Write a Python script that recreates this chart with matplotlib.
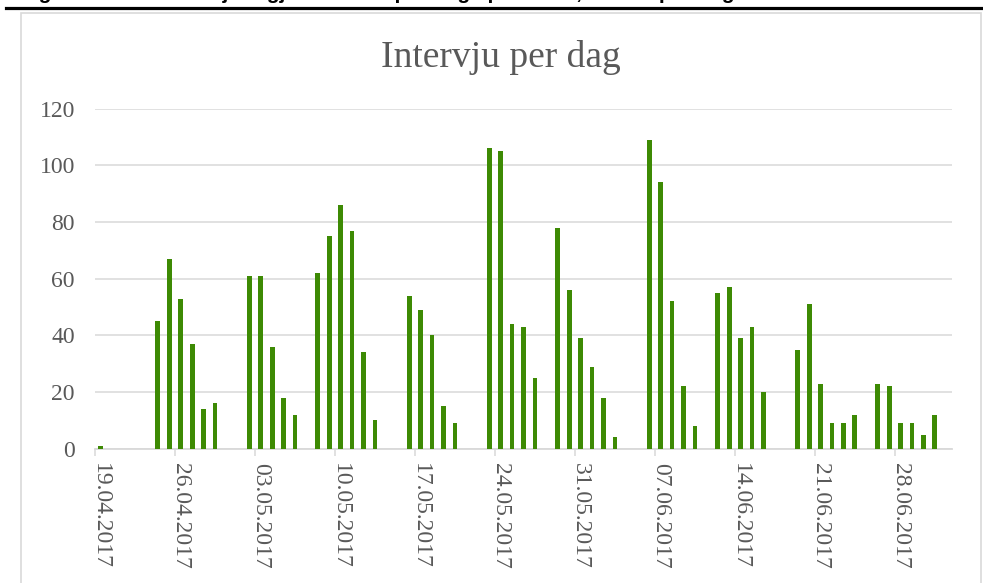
import numpy as np
import pandas as pd
import matplotlib
matplotlib.use("Agg")
import matplotlib.pyplot as plt
from matplotlib.lines import Line2D
from matplotlib.patches import Rectangle

start_date = "2017-04-19"
n_days = 75
interviews = [
    1, 0, 0, 0, 0, 45, 67, 53, 37, 14, 16,
    0, 0, 61, 61, 36, 18, 12,
    0, 62, 75, 86, 77, 34, 10,
    0, 0, 54, 49, 40, 15, 9,
    0, 0, 106, 105, 44, 43, 25,
    0, 78, 56, 39, 29, 18, 4,
    0, 0, 109, 94, 52, 22, 8,
    0, 55, 57, 39, 43, 20,
    0, 0, 35, 51, 23, 9, 9, 12,
    0, 23, 22, 9, 9, 5, 12,
    0,
]
y_ticks = [0, 20, 40, 60, 80, 100, 120]
title = "Intervju per dag"
caption = "Figur 3: Antall intervjuer gjennomført per dag i perioden, fordelt per dag"

GREEN = "#3d8a04"
GRID = "#d9d9d9"
TEXT = "#595959"


def draw_chart():
    plt.rcParams["font.family"] = ["Liberation Serif", "DejaVu Serif"]
    days = pd.date_range(start_date, periods=n_days)
    x = np.arange(n_days)

    W, H = 983, 583
    fig = plt.figure(figsize=(W / 100, H / 100), dpi=100)

    # clipped caption and rule above the chart, outer chart frame
    fig.text(20 / W, 1 + 1 / H, caption, fontsize=15, fontweight="bold",
             family="Liberation Sans", color="black", va="baseline")
    fig.add_artist(Line2D([6 / W, 1], [1 - 8.3 / H] * 2, color="black", lw=2.3,
                          transform=fig.transFigure))
    fig.add_artist(Rectangle((21 / W, -0.05), 960 / W, 1.05 - 12.7 / H,
                             fill=False, edgecolor=GRID, lw=1.2,
                             transform=fig.transFigure))

    ax = fig.add_axes([95 / W, (H - 448.7) / H, 857 / W, 340 / H])
    ax.bar(x, interviews, width=0.42, color=GREEN, linewidth=0, zorder=3)

    ax.set_xlim(-0.5, n_days - 0.5)
    ax.set_ylim(0, 120)
    ax.set_yticks(y_ticks)
    ax.set_yticklabels([str(v) for v in y_ticks])
    ax.grid(axis="y", color=GRID, lw=1.1, zorder=0)

    # tick marks on week boundaries, labels centred on the day
    week = x[::7]
    ax.set_xticks(week - 0.5)
    ax.set_xticklabels([])
    ax.set_xticks(week, minor=True)
    ax.set_xticklabels(days[::7].strftime("%d.%m.%Y"), minor=True,
                       rotation=270, fontsize=17, color=TEXT)
    ax.tick_params(axis="x", which="major", length=5, width=1.1, color=GRID)
    ax.tick_params(axis="x", which="minor", length=0, pad=10)
    ax.tick_params(axis="y", length=0, pad=14.5, labelsize=17, labelcolor=TEXT)

    for side in ("top", "right", "left"):
        ax.spines[side].set_visible(False)
    ax.spines["bottom"].set_color(GRID)
    ax.spines["bottom"].set_linewidth(1.3)

    fig.text(501 / W, 1 - 67 / H, title, fontsize=27, color=TEXT,
             ha="center", va="baseline")

    fig.savefig("out.png", dpi=100)


def main():
    draw_chart()


if __name__ == '__main__':
    main()
